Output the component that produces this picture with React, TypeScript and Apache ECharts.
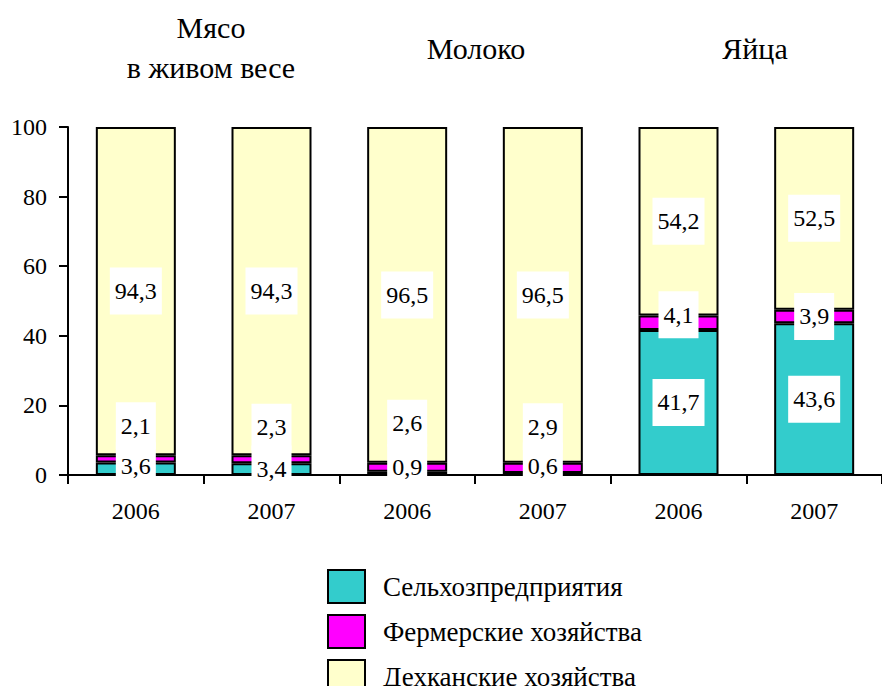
import React, { useEffect, useRef } from "react";
import * as echarts from "echarts";

const categories = ["2006", "2007", "2006", "2007", "2006", "2007"];
const groupTitles = ["Мясо\nв живом весе", "Молоко", "Яйца"];
const seriesNames = ["Сельхозпредприятия", "Фермерские хозяйства", "Дехканские хозяйства"];
const agriEnterprises = [3.6, 3.4, 0.9, 0.6, 41.7, 43.6];
const farmers = [2.1, 2.3, 2.6, 2.9, 4.1, 3.9];
const dehkan = [94.3, 94.3, 96.5, 96.5, 54.2, 52.5];
const yTicks = { min: 0, max: 100, interval: 20 };

// label vertical nudges (style only)
const tealLabelShift = [-3, 0, -6, -8, 0, 0];
const farmerLabelShift = [-33, -32, -44, -41, -8, 0];

const FONT = "'Liberation Serif', 'Times New Roman', serif";
const colors = ["#33CCCC", "#FF00FF", "#FFFFCC"];

export default function App() {
  const ref = useRef<HTMLDivElement>(null);
  useEffect(() => {
    if (!ref.current) return;
    const chart = echarts.init(ref.current, null, { renderer: "svg" });
    const labelBase = {
      show: true,
      position: "inside",
      color: "#000",
      fontFamily: FONT,
      fontSize: 24,
      lineHeight: 27,
      backgroundColor: "#fff",
      padding: [10, 5],
      formatter: (p: any) => String(p.value).replace(".", ","),
    };
    const mk = (name: string, vals: number[], color: string, shifts?: number[]) => ({
      name,
      type: "bar",
      stack: "total",
      barWidth: 80,
      itemStyle: { color, borderColor: "#000", borderWidth: 2 },
      label: labelBase,
      data: vals.map((v, i) =>
        shifts ? { value: v, label: { offset: [0, shifts[i]] } } : { value: v }
      ),
    });
    const titleStyle = {
      fontFamily: FONT,
      fontSize: 30,
      textAlign: "center",
      textVerticalAlign: "middle",
      fill: "#000",
    };
    chart.setOption({
      animation: false,
      backgroundColor: "#fff",
      textStyle: { fontFamily: FONT },
      grid: { left: 68, top: 127, bottom: 211, width: 819 },
      xAxis: {
        type: "category",
        data: categories,
        axisLine: { lineStyle: { color: "#000", width: 2 } },
        axisTick: { show: true, length: 9, lineStyle: { color: "#000", width: 2 } },
        axisLabel: { color: "#000", fontSize: 24, fontFamily: FONT, margin: 24 },
      },
      yAxis: {
        type: "value",
        min: yTicks.min,
        max: yTicks.max,
        interval: yTicks.interval,
        axisLine: { show: true, lineStyle: { color: "#000", width: 2 } },
        axisTick: { show: true, length: 9, lineStyle: { color: "#000", width: 2 } },
        splitLine: { show: false },
        axisLabel: { color: "#000", fontSize: 24, fontFamily: FONT, margin: 21 },
      },
      legend: {
        orient: "vertical",
        left: 327,
        top: 569,
        height: 200,
        padding: 0,
        itemWidth: 37,
        itemHeight: 33,
        itemGap: 10,
        icon: "rect",
        data: seriesNames,
        itemStyle: { borderColor: "#000", borderWidth: 2 },
        textStyle: { color: "#000", fontSize: 27, fontFamily: FONT, padding: [0, 0, 0, 13] },
      },
      graphic: [
        {
          type: "text",
          x: 211,
          y: 47,
          style: { ...titleStyle, text: groupTitles[0], lineHeight: 40 },
        },
        {
          type: "text",
          x: 476,
          y: 48,
          style: { ...titleStyle, text: groupTitles[1] },
        },
        {
          type: "text",
          x: 755,
          y: 48,
          style: { ...titleStyle, text: groupTitles[2] },
        },
      ],
      series: [
        mk(seriesNames[0], agriEnterprises, colors[0], tealLabelShift),
        mk(seriesNames[1], farmers, colors[1], farmerLabelShift),
        mk(seriesNames[2], dehkan, colors[2]),
      ],
    });
    return () => chart.dispose();
  }, []);
  return (
    <div
      ref={ref}
      style={{ position: "fixed", left: 0, top: 0, width: 882, height: 686 }}
    />
  );
}
